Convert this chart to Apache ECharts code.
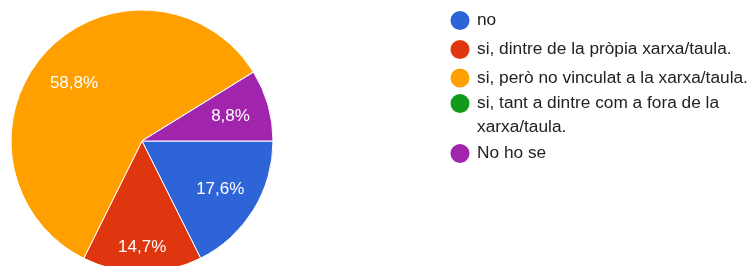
<!DOCTYPE html>
<html>
  <head>
    <meta charset="utf-8" />
    <title>ECharts</title>
    <script src="https://cdn.jsdelivr.net/npm/echarts@6.0.0/dist/echarts.min.js"></script>
    <style>
      html, body { margin: 0; padding: 0; background: #fff; }
      #chart-container { width: 753px; height: 266px; }
    </style>
  </head>
  <body>
    <div id="chart-container"></div>
    <script type="text/javascript">
      // answers and their share (%)
      const categories = [
        'no',
        'si, dintre de la pròpia xarxa/taula.',
        'si, però no vinculat a la xarxa/taula.',
        'si, tant a dintre com a fora de la xarxa/taula.',
        'No ho se'
      ];
      const shares = [17.6, 14.7, 58.8, 0, 8.8];
      const colors = ['#2d64d8', '#e0360f', '#ffa000', '#139a1a', '#a024ac'];

      const font = "'Liberation Sans', Arial, sans-serif";
      const center = [142, 141];
      const outerR = 131;
      // vertical centre of each legend row (first text line)
      const legendRows = [19, 48, 76.5, 103.5, 152];
      const iconH = 21;

      const pieData = categories.map((name, i) => ({
        name: name,
        value: shares[i],
        itemStyle: { color: colors[i] }
      }));

      // one legend per row so the wrapped entry keeps its dot on the first line
      const legends = categories.map((name, i) => {
        const wrapped = name.indexOf('fora de la ') >= 0;
        return {
          orient: 'vertical',
          left: 448.5,
          // wrapped entry gets an empty first line, so its box is 3 lines tall
          top: wrapped ? legendRows[i] - 36 : legendRows[i] - iconH / 2,
          padding: 0,
          icon: 'circle',
          itemWidth: 24,
          itemHeight: iconH,
          selectedMode: false,
          data: [{ name: name, itemStyle: { color: colors[i] } }],
          formatter: (n) => n.indexOf('fora de la ') >= 0 ? '\n' + n.replace('fora de la ', 'fora de la\n') : n,
          textStyle: {
            fontFamily: font,
            fontSize: 17.3,
            color: '#222',
            lineHeight: 24
          }
        };
      });

      const chart = echarts.init(document.getElementById('chart-container'), null, { renderer: 'canvas' });
      chart.setOption({
        animation: false,
        backgroundColor: '#fff',
        legend: legends,
        series: [
          {
            type: 'pie',
            center: center,
            radius: [0, outerR],
            startAngle: 0,
            clockwise: true,
            data: pieData,
            label: { show: false },
            labelLine: { show: false },
            emphasis: { disabled: true },
            itemStyle: { borderColor: '#fff', borderWidth: 1 }
          },
          {
            // transparent ring, only used to place the % labels further out
            type: 'pie',
            center: center,
            radius: [47, outerR],
            startAngle: 0,
            clockwise: true,
            silent: true,
            data: pieData.map(d => ({ name: d.name, value: d.value })),
            itemStyle: { color: 'rgba(0,0,0,0)', borderWidth: 0 },
            emphasis: { disabled: true },
            labelLine: { show: false },
            label: {
              show: true,
              position: 'inside',
              color: '#fff',
              fontFamily: font,
              fontSize: 17,
              formatter: (p) => p.value ? p.value.toFixed(1).replace('.', ',') + '%' : ''
            },
            labelLayout: (p) => (p.dataIndex === 1 ? { dy: 14 } : p.dataIndex === 2 ? { dy: 4 } : {})
          }
        ]
      });
    </script>
  </body>
</html>
